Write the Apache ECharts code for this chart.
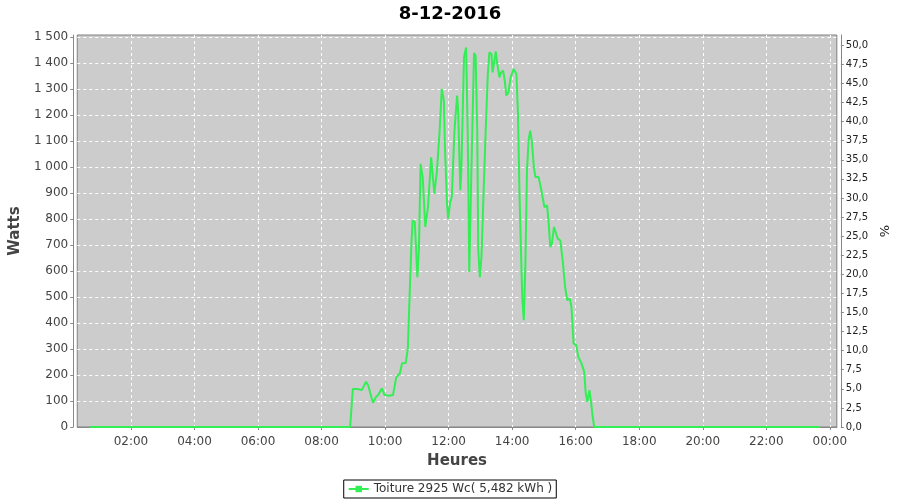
<!DOCTYPE html>
<html><head><meta charset="utf-8">
<script src="https://cdn.jsdelivr.net/npm/echarts@6/dist/echarts.min.js"></script>
<style>html,body{margin:0;padding:0;background:#fff}#c{width:900px;height:500px}</style>
</head><body><div id="c"></div>
<script>
const times = ["00:43","01:00","01:15","01:30","01:45","02:00","02:30","03:00","03:30","04:00","04:30","05:00","05:30","06:00","06:30","07:00","07:30","08:00","08:30","08:45","08:54",
"08:59","09:05","09:10","09:16","09:24","09:28","09:37","09:43","09:47","09:54","09:59","10:07","10:15","10:21","10:28","10:32","10:39","10:43","10:46","10:50","10:52","10:56",
"11:01","11:04","11:07","11:11","11:16","11:21","11:27","11:33","11:38","11:43","11:47","11:51","11:53","11:57","11:59",
"12:03","12:06","12:11","12:16","12:18","12:22","12:24","12:29","12:33","12:36","12:39","12:43","12:48","12:51","12:54","12:56","12:59",
"13:02","13:07","13:10","13:14","13:17","13:21","13:23","13:26","13:29","13:32","13:36","13:39","13:43","13:46","13:49","13:53","13:57",
"14:03","14:08","14:11","14:14","14:19","14:22","14:25","14:28","14:31","14:34","14:37","14:41","14:44","14:50","14:54",
"15:01","15:06","15:09","15:12","15:15","15:19","15:26","15:31","15:36","15:40","15:44","15:49","15:52","15:56",
"16:01","16:05","16:11","16:16","16:19","16:22","16:26","16:29","16:32","16:35",
"17:00","17:30","18:00","18:30","19:00","19:30","20:00","20:30","21:00","21:30","22:00","22:30","23:00","23:30","23:41"];
const watts = [0,0,0,0,0,0,0,0,0,0,0,0,0,0,0,0,0,0,0,0,0,
146,146,145,142,174,161,93,116,123,149,123,120,123,191,207,245,246,303,488,718,795,790,
577,693,1013,962,770,846,1038,898,987,1141,1301,1256,1077,859,802,
866,885,1141,1276,1218,911,987,1423,1461,1141,597,987,1440,1430,1141,680,577,
654,962,1141,1359,1442,1436,1365,1404,1446,1397,1346,1365,1372,1333,1276,1288,1346,
1378,1359,1205,885,500,411,629,987,1103,1141,1103,1000,962,962,923,
846,853,782,693,706,770,725,718,629,539,488,494,462,322,
315,270,245,213,129,97,142,97,40,0,
0,0,0,0,0,0,0,0,0,0,0,0,0,0,0];
const xTicks = [2,4,6,8,10,12,14,16,18,20,22,24];
const wattTicks = [0,100,200,300,400,500,600,700,800,900,1000,1100,1200,1300,1400,1500];
const pctTicks = [0,2.5,5,7.5,10,12.5,15,17.5,20,22.5,25,27.5,30,32.5,35,37.5,40,42.5,45,47.5,50];
const seriesName = "Toiture 2925 Wc( 5,482 kWh )";

const toH = t => { const [h,m] = t.split(':').map(Number); return h + m/60; };
const data = times.map((t,i) => [toH(t), watts[i]]);
const pad = n => (n<10?'0':'') + n;
const fmtW = v => v >= 1000 ? Math.floor(v/1000) + '\u00a0' + String(v%1000).padStart(3,'0') : String(v);
const F = 'DejaVu Sans';

const chart = echarts.init(document.getElementById('c'));
chart.setOption({
  backgroundColor: '#fff',
  animation: false,
  title: { text: '8-12-2016', left: 'center', top: 0, textStyle: { fontFamily: F, fontSize: 18, fontWeight: 'bold', color: '#000' } },
  grid: { left: 77, right: 61, top: 35, bottom: 73, show: true, backgroundColor: '#cccccc', borderColor: '#808080', borderWidth: 1 },
  legend: { bottom: 2, left: 'center', data: [seriesName], borderColor: '#000', borderWidth: 1, borderRadius: 0, padding: [3, 4], itemWidth: 20, itemHeight: 8, itemGap: 4,
    textStyle: { fontFamily: F, fontSize: 12, color: '#333' } },
  xAxis: {
    type: 'value', min: 0.31, max: 24.22, offset: 4,
    name: 'Heures', nameLocation: 'middle', nameGap: 23,
    nameTextStyle: { fontFamily: F, fontSize: 15, fontWeight: 'bold', color: '#444' },
    axisLine: { show: true, lineStyle: { color: '#888' } },
    axisTick: { show: true, length: 3, lineStyle: { color: '#888' }, customValues: xTicks },
    axisLabel: { fontFamily: F, fontSize: 12, color: '#444', margin: 5, customValues: xTicks, formatter: v => pad(Math.round(v) % 24) + ':00' },
    splitLine: { show: true, lineStyle: { color: '#ffffff', type: [3, 3], width: 1 } }
  },
  yAxis: [{
    type: 'value', min: 0, max: 1509, offset: 4, position: 'left',
    name: 'Watts', nameLocation: 'middle', nameGap: 46, nameRotate: 90,
    nameTextStyle: { fontFamily: F, fontSize: 15, fontWeight: 'bold', color: '#444' },
    axisLine: { show: true, lineStyle: { color: '#888' } },
    axisTick: { show: true, length: 3, lineStyle: { color: '#888' }, customValues: wattTicks },
    axisLabel: { fontFamily: F, fontSize: 12, color: '#444', margin: 5, customValues: wattTicks, formatter: fmtW },
    splitLine: { show: true, lineStyle: { color: '#ffffff', type: [3, 3], width: 1 } }
  }, {
    type: 'value', min: 0, max: 51.35, offset: 4, position: 'right',
    name: '%', nameLocation: 'middle', nameGap: 34, nameRotate: 90,
    nameTextStyle: { fontFamily: F, fontSize: 13, color: '#222' },
    axisLine: { show: true, lineStyle: { color: '#888' } },
    axisTick: { show: true, length: 3, lineStyle: { color: '#888' }, customValues: pctTicks },
    axisLabel: { fontFamily: F, fontSize: 10, color: '#222', margin: 5, customValues: pctTicks, formatter: v => v.toFixed(1).replace('.', ',') },
    splitLine: { show: false }
  }],
  series: [{
    name: seriesName, type: 'line', data: data, yAxisIndex: 0,
    showSymbol: false, symbol: 'rect', symbolSize: 3,
    lineStyle: { color: '#33ee55', width: 2 }, itemStyle: { color: '#33ee55' }
  }]
});
</script></body></html>
